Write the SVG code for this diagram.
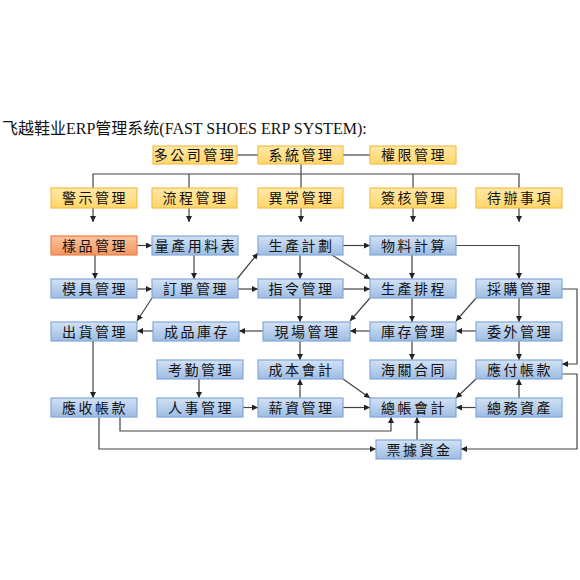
<svg xmlns="http://www.w3.org/2000/svg" width="580" height="580" viewBox="0 0 580 580">
<defs>
<linearGradient id="gy" x1="0" y1="0" x2="0" y2="1"><stop offset="0" stop-color="#FFE9A8"/><stop offset="1" stop-color="#FFD66B"/></linearGradient>
<linearGradient id="gb" x1="0" y1="0" x2="0" y2="1"><stop offset="0" stop-color="#D3E2F5"/><stop offset="1" stop-color="#9DBCE3"/></linearGradient>
<linearGradient id="go" x1="0" y1="0" x2="0" y2="1"><stop offset="0" stop-color="#F9C3A0"/><stop offset="1" stop-color="#F4975F"/></linearGradient>
<marker id="ar" markerWidth="7" markerHeight="6" refX="6" refY="3" orient="auto" markerUnits="userSpaceOnUse"><path d="M0,0 L6,3 L0,6 z" fill="#222"/></marker>
</defs>
<style>
.y{fill:url(#gy);stroke:#F5BE4A;stroke-width:1.2}
.b{fill:url(#gb);stroke:#83A9D8;stroke-width:1.2}
.o{fill:url(#go);stroke:#E8804A;stroke-width:1.2}
text{font-family:"Noto Sans CJK TC","Noto Sans CJK SC",sans-serif;font-size:14px;fill:#111;text-anchor:middle;letter-spacing:2.5px}
.t{font-family:"Liberation Serif","Noto Sans CJK SC",serif;font-size:16px;text-anchor:start;letter-spacing:0}
#c path{fill:none;stroke:#444;stroke-width:1.2}
#c .a{marker-end:url(#ar)}
</style>
<rect width="580" height="580" fill="#fff"/>
<text class="t" x="2" y="134">飞越鞋业ERP管理系统(FAST SHOES ERP SYSTEM):</text>
<g id="c">
<path d="M237,155 H258"/>
<path d="M343,155 H370"/>
<path d="M93,188 V174 H519 V188"/>
<path d="M189,174 V188"/>
<path d="M413,174 V188"/>
<path d="M301,164 V188"/>
<path class="a" d="M93,208 V222"/>
<path class="a" d="M189,208 V222"/>
<path class="a" d="M301,208 V222"/>
<path class="a" d="M413,208 V222"/>
<path class="a" d="M519,208 V222"/>
<path class="a" d="M137,245.5 H152"/>
<path class="a" d="M95,255 V279"/>
<path class="a" d="M194,255 V279"/>
<path class="a" d="M137,289 H152"/>
<path class="a" d="M237,279 L258,253"/>
<path class="a" d="M238,289 H258"/>
<path class="a" d="M152,298 L137,321"/>
<path class="a" d="M300,255 V279"/>
<path class="a" d="M343,245.5 H370"/>
<path class="a" d="M332,255 L370,279"/>
<path class="a" d="M412,255 V279"/>
<path class="a" d="M456,245.5 H519 V279"/>
<path class="a" d="M343,289 H370"/>
<path class="a" d="M300,298 V322"/>
<path class="a" d="M370,298 L350,321"/>
<path class="a" d="M412,298 V322"/>
<path class="a" d="M476,298 L456,321"/>
<path class="a" d="M519,298 V322"/>
<path class="a" d="M562,289 H577 V364 H562"/>
<path class="a" d="M476,331 H456"/>
<path class="a" d="M370,331 H350"/>
<path class="a" d="M263,331 H239"/>
<path class="a" d="M153,331 H137"/>
<path class="a" d="M93,341 V398"/>
<path class="a" d="M300,341 V360"/>
<path class="a" d="M412,341 V360"/>
<path class="a" d="M519,341 V360"/>
<path class="a" d="M199,379 V398"/>
<path class="a" d="M243,407.5 H258"/>
<path class="a" d="M300,398 V379"/>
<path class="a" d="M343,379 L370,398"/>
<path class="a" d="M343,407.5 H370"/>
<path class="a" d="M476,379 L456,398"/>
<path class="a" d="M476,407.5 H456"/>
<path class="a" d="M519,398 V379"/>
<path class="a" d="M417,440 V417"/>
<path class="a" d="M120,417 V431 H391 V417"/>
<path class="a" d="M99,417 V449 H376"/>
<path class="a" d="M562,374 H577 V449 H461"/>
</g>
<g id="n1"><rect class="y" x="153" y="146" width="84" height="18"/><text x="195" y="160">多公司管理</text></g>
<g id="n2"><rect class="y" x="258" y="146" width="85" height="18"/><text x="301.5" y="160">系統管理</text></g>
<g id="n3"><rect class="y" x="370" y="146" width="86" height="18"/><text x="414" y="160">權限管理</text></g>
<g id="n4"><rect class="y" x="51" y="188" width="86" height="20"/><text x="95" y="203">警示管理</text></g>
<g id="n5"><rect class="y" x="152" y="188" width="85" height="20"/><text x="195.5" y="203">流程管理</text></g>
<g id="n6"><rect class="y" x="258" y="188" width="85" height="20"/><text x="301.5" y="203">異常管理</text></g>
<g id="n7"><rect class="y" x="370" y="188" width="86" height="20"/><text x="414" y="203">簽核管理</text></g>
<g id="n8"><rect class="y" x="476" y="188" width="86" height="20"/><text x="520" y="203">待辦事項</text></g>
<g id="n9"><rect class="o" x="51" y="236" width="86" height="19"/><text x="95" y="250.5">樣品管理</text></g>
<g id="n10"><rect class="b" x="152" y="236" width="86" height="19"/><text x="196" y="250.5">量產用料表</text></g>
<g id="n11"><rect class="b" x="258" y="236" width="85" height="19"/><text x="301.5" y="250.5">生產計劃</text></g>
<g id="n12"><rect class="b" x="370" y="236" width="86" height="19"/><text x="414" y="250.5">物料計算</text></g>
<g id="n13"><rect class="b" x="51" y="279" width="86" height="19"/><text x="95" y="293.5">模具管理</text></g>
<g id="n14"><rect class="b" x="152" y="279" width="86" height="19"/><text x="196" y="293.5">訂單管理</text></g>
<g id="n15"><rect class="b" x="258" y="279" width="85" height="19"/><text x="301.5" y="293.5">指令管理</text></g>
<g id="n16"><rect class="b" x="370" y="279" width="86" height="19"/><text x="414" y="293.5">生產排程</text></g>
<g id="n17"><rect class="b" x="476" y="279" width="86" height="19"/><text x="520" y="293.5">採購管理</text></g>
<g id="n18"><rect class="b" x="51" y="322" width="86" height="19"/><text x="95" y="336.5">出貨管理</text></g>
<g id="n19"><rect class="b" x="153" y="322" width="86" height="19"/><text x="197" y="336.5">成品庫存</text></g>
<g id="n20"><rect class="b" x="263" y="322" width="87" height="19"/><text x="307.5" y="336.5">現場管理</text></g>
<g id="n21"><rect class="b" x="370" y="322" width="86" height="19"/><text x="414" y="336.5">庫存管理</text></g>
<g id="n22"><rect class="b" x="476" y="322" width="86" height="19"/><text x="520" y="336.5">委外管理</text></g>
<g id="n23"><rect class="b" x="157" y="360" width="86" height="19"/><text x="201" y="374.5">考勤管理</text></g>
<g id="n24"><rect class="b" x="258" y="360" width="85" height="19"/><text x="301.5" y="374.5">成本會計</text></g>
<g id="n25"><rect class="b" x="370" y="360" width="86" height="19"/><text x="414" y="374.5">海關合同</text></g>
<g id="n26"><rect class="b" x="476" y="360" width="86" height="19"/><text x="520" y="374.5">應付帳款</text></g>
<g id="n27"><rect class="b" x="51" y="398" width="86" height="19"/><text x="95" y="412.5">應收帳款</text></g>
<g id="n28"><rect class="b" x="157" y="398" width="86" height="19"/><text x="201" y="412.5">人事管理</text></g>
<g id="n29"><rect class="b" x="258" y="398" width="85" height="19"/><text x="301.5" y="412.5">薪資管理</text></g>
<g id="n30"><rect class="b" x="370" y="398" width="86" height="19"/><text x="414" y="412.5">總帳會計</text></g>
<g id="n31"><rect class="b" x="476" y="398" width="86" height="19"/><text x="520" y="412.5">總務資產</text></g>
<g id="n32"><rect class="b" x="376" y="440" width="85" height="19"/><text x="419.5" y="454.5">票據資金</text></g>
</svg>
